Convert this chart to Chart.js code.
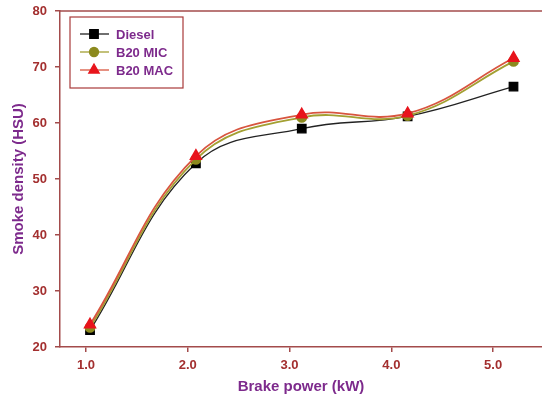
<!DOCTYPE html>
<html>
<head>
<meta charset="utf-8">
<script src="https://cdn.jsdelivr.net/npm/chart.js@4.4.1/dist/chart.umd.min.js"></script>
<style>
  html, body { margin: 0; padding: 0; background: #fff; }
  #wrap { width: 542px; height: 401px; }
</style>
</head>
<body>
<div id="wrap"><canvas id="smokeChart" width="542" height="401"></canvas></div>
<script>
// smoke density vs brake power
const brakePower = [1.04, 2.08, 3.12, 4.16, 5.2];
const dieselSmoke = [23.0, 52.8, 59.0, 61.2, 66.5];
const b20MicSmoke = [23.5, 53.5, 61.0, 61.3, 71.0];
const b20MacSmoke = [24.0, 54.1, 61.5, 61.7, 71.6];
const xTicks = [1, 2, 3, 4, 5];
const yTicks = [20, 30, 40, 50, 60, 70, 80];

const axisColor = "#a34b4b";
const tickColor = "#a32f2f";
const titleColor = "#7d2a8c";
const FONT = "'Liberation Sans', Arial, sans-serif";

const toPoints = ys => brakePower.map((x, i) => ({ x, y: ys[i] }));

// top frame line (no right border in the original)
const frameTop = {
  id: "frameTop",
  afterDraw(chart) {
    const { ctx, chartArea: a } = chart;
    ctx.save();
    ctx.strokeStyle = axisColor;
    ctx.lineWidth = 1.5;
    ctx.beginPath();
    ctx.moveTo(a.left, a.top);
    ctx.lineTo(a.right, a.top);
    ctx.stroke();
    ctx.restore();
  }
};

// boxed legend inside the plot, top-left
const boxLegend = {
  id: "boxLegend",
  afterDraw(chart) {
    const { ctx, chartArea: a } = chart;
    const bx = a.left + 10, by = a.top + 6, bw = 113, bh = 71;
    ctx.save();
    ctx.fillStyle = "#fff";
    ctx.fillRect(bx, by, bw, bh);
    ctx.strokeStyle = "#a83a3a";
    ctx.lineWidth = 1.2;
    ctx.strokeRect(bx, by, bw, bh);
    chart.data.datasets.forEach((ds, i) => {
      const ry = by + 17 + i * 18;
      ctx.strokeStyle = ds.borderColor;
      ctx.lineWidth = 1.3;
      ctx.beginPath();
      ctx.moveTo(bx + 10, ry);
      ctx.lineTo(bx + 39, ry);
      ctx.stroke();
      ctx.fillStyle = ds.pointBackgroundColor;
      ctx.strokeStyle = ds.pointBackgroundColor;
      Chart.helpers.drawPoint(ctx, {
        pointStyle: ds.pointStyle, radius: ds.pointRadius, rotation: 0, borderWidth: 1
      }, bx + 24, ry);
      ctx.fillStyle = titleColor;
      ctx.font = "bold 13px " + FONT;
      ctx.textBaseline = "middle";
      ctx.fillText(ds.label, bx + 46, ry + 1);
    });
    ctx.restore();
  }
};

new Chart(document.getElementById("smokeChart"), {
  type: "line",
  data: {
    datasets: [
      {
        label: "Diesel",
        data: toPoints(dieselSmoke),
        borderColor: "#222",
        borderWidth: 1.3,
        pointStyle: "rect",
        pointRadius: 6,
        pointBackgroundColor: "#000",
        pointBorderColor: "#000",
        tension: 0.4,
        order: 3
      },
      {
        label: "B20 MIC",
        data: toPoints(b20MicSmoke),
        borderColor: "#a3a032",
        borderWidth: 1.8,
        pointStyle: "circle",
        pointRadius: 4.5,
        pointBackgroundColor: "#8c8a1e",
        pointBorderColor: "#8c8a1e",
        tension: 0.4,
        order: 2
      },
      {
        label: "B20 MAC",
        data: toPoints(b20MacSmoke),
        borderColor: "#d8553f",
        borderWidth: 1.8,
        pointStyle: "triangle",
        pointRadius: 6,
        pointBackgroundColor: "#e8141c",
        pointBorderColor: "#e8141c",
        tension: 0.4,
        order: 1
      }
    ]
  },
  options: {
    responsive: false,
    animation: false,
    layout: { autoPadding: false, padding: { top: 11, right: 0, left: 0, bottom: 0 } },
    plugins: { legend: { display: false }, tooltip: { enabled: false } },
    scales: {
      x: {
        type: "linear",
        min: 0.745,
        max: 5.48,
        afterFit: s => { s.height = 54; s.paddingLeft = 0; s.paddingRight = 0; },
        afterBuildTicks: s => { s.ticks = xTicks.map(v => ({ value: v })); },
        grid: { drawOnChartArea: false, drawTicks: true, tickLength: 5, color: axisColor, lineWidth: 1.5 },
        border: { color: axisColor, width: 1.5 },
        ticks: {
          color: tickColor, padding: 6,
          font: { family: FONT, size: 13, weight: "bold" },
          callback: v => v.toFixed(1)
        },
        title: {
          display: true, text: "Brake power (kW)", color: titleColor,
          padding: { top: 0, bottom: 5 },
          font: { family: FONT, size: 15, weight: "bold" }
        }
      },
      y: {
        min: 20,
        max: 80,
        afterFit: s => { s.width = 60; s.paddingTop = 0; s.paddingBottom = 0; },
        afterBuildTicks: s => { s.ticks = yTicks.map(v => ({ value: v })); },
        grid: { drawOnChartArea: false, drawTicks: true, tickLength: 5, color: axisColor, lineWidth: 1.5 },
        border: { color: axisColor, width: 1.5 },
        ticks: {
          color: tickColor, padding: 8,
          font: { family: FONT, size: 13, weight: "bold" }
        },
        title: {
          display: true, text: "Smoke density (HSU)", color: titleColor,
          padding: { top: 10, bottom: 0 },
          font: { family: FONT, size: 15, weight: "bold" }
        }
      }
    }
  },
  plugins: [frameTop, boxLegend]
});
</script>
</body>
</html>
